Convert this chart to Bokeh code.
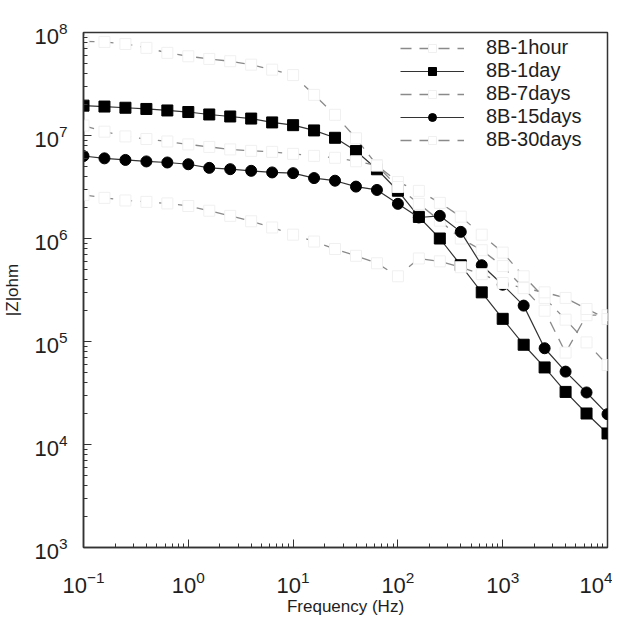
from bokeh.plotting import figure
from bokeh.models import Range1d
from bokeh.embed import file_html
from bokeh.resources import INLINE

freq = [0.1, 0.1585, 0.2512, 0.3981, 0.631, 1.0, 1.585, 2.512, 3.981, 6.31,
        10.0, 15.85, 25.12, 39.81, 63.1, 100.0, 158.5, 251.2, 398.1, 631.0,
        1000.0, 1585.0, 2512.0, 3981.0, 6310.0, 10000.0]

z_1hour = [8.2e7, 8.1e7, 7.74e7, 7.1e7, 6.35e7, 5.88e7, 5.54e7, 5.26e7, 4.87e7, 4.36e7,
           3.86e7, 2.48e7, 1.59e7, 9.4e6, 5.15e6, 3.53e6, 2.9e6, 2.22e6, 1.63e6, 1.09e6,
           7.3e5, 4.3e5, 2.65e5, 1.63e5, 9.8e4, 5.9e4]
z_1day = [1.95e7, 1.91e7, 1.86e7, 1.81e7, 1.75e7, 1.69e7, 1.6e7, 1.53e7, 1.46e7, 1.34e7,
          1.26e7, 1.12e7, 9.5e6, 7.06e6, 4.7e6, 2.91e6, 1.62e6, 1.0e6, 5.5e5, 3.0e5,
          1.66e5, 9.3e4, 5.6e4, 3.24e4, 2.0e4, 1.28e4]
z_7days = [1.25e7, 1.09e7, 9.8e6, 9.25e6, 8.75e6, 8.2e6, 7.75e6, 7.33e6, 7.1e6, 6.94e6,
           6.64e6, 6.35e6, 6.08e6, 5.62e6, 5.1e6, 3.16e6, 2.17e6, 1.49e6, 1.0e6, 7.7e5,
           5.4e5, 3.3e5, 1.99e5, 7.8e4, 1.8e5, 1.8e5]
z_15days = [6.32e6, 6.0e6, 5.79e6, 5.6e6, 5.47e6, 5.26e6, 4.85e6, 4.71e6, 4.54e6, 4.38e6,
            4.31e6, 3.86e6, 3.64e6, 3.19e6, 2.96e6, 2.17e6, 1.6e6, 1.66e6, 1.16e6, 5.5e5,
            3.56e5, 2.23e5, 8.6e4, 5.1e4, 3.2e4, 1.97e4]
z_30days = [2.65e6, 2.48e6, 2.34e6, 2.27e6, 2.19e6, 2.07e6, 1.86e6, 1.66e6, 1.47e6, 1.28e6,
            1.09e6, 9.35e5, 7.9e5, 6.8e5, 5.75e5, 4.3e5, 6.4e5, 6.0e5, 5.26e5, 4.5e5,
            3.7e5, 3.3e5, 3.0e5, 2.65e5, 2.07e5, 1.65e5]

FONT = "Liberation Sans"
GREY = "#8a8a8a"
INK = "#1e1e1e"

p = figure(width=612, height=618, x_axis_type="log", y_axis_type="log",
           x_range=Range1d(0.1, 1e4), y_range=Range1d(1e3, 1e8),
           output_backend="svg", toolbar_location=None,
           min_border_left=81, min_border_right=5, min_border_top=32, min_border_bottom=66)

p.xgrid.visible = False
p.ygrid.visible = False
p.outline_line_color = "#333333"
p.outline_line_width = 1.5

def dashed(z, label):
    p.line(freq, z, line_color=GREY, line_width=1.3, line_dash="11 8", legend_label=label)
    p.scatter(freq, z, marker="square", size=11, fill_color="white",
              line_color="#f0f0f0", line_width=1, legend_label=label)

dashed(z_1hour, "8B-1hour")
p.line(freq, z_1day, line_color="#333333", line_width=1.2, legend_label="8B-1day")
p.scatter(freq, z_1day, marker="square", size=11, fill_color="black",
          line_color="black", legend_label="8B-1day")
dashed(z_7days, "8B-7days")
p.line(freq, z_15days, line_color="#333333", line_width=1.2, legend_label="8B-15days")
p.scatter(freq, z_15days, marker="circle", size=11, fill_color="black",
          line_color="black", legend_label="8B-15days")
dashed(z_30days, "8B-30days")

for ax in (p.xaxis[0], p.yaxis[0]):
    ax.axis_line_color = "#333333"
    ax.axis_line_width = 1.5
    ax.major_tick_in = 8
    ax.major_tick_out = 0
    ax.minor_tick_in = 4
    ax.minor_tick_out = 0
    ax.major_tick_line_color = "#333333"
    ax.minor_tick_line_color = "#333333"
    ax.major_label_text_font = FONT
    ax.major_label_text_font_size = "22px"
    ax.major_label_text_color = INK
    ax.axis_label_text_font = FONT
    ax.axis_label_text_font_size = "17px"
    ax.axis_label_text_font_style = "normal"
    ax.axis_label_text_color = INK

p.xaxis.axis_label = "Frequency (Hz)"
p.yaxis.axis_label = "|Z|ohm"
p.xaxis.major_label_standoff = 23
p.yaxis.major_label_standoff = 16
p.xaxis.axis_label_standoff = 1
p.yaxis.axis_label_standoff = 9

p.legend.location = (317, 396)
p.legend.border_line_color = None
p.legend.background_fill_alpha = 0
p.legend.label_text_font = FONT
p.legend.label_text_font_size = "20px"
p.legend.label_text_color = INK
p.legend.label_text_line_height = 1.0
p.legend.glyph_width = 64
p.legend.glyph_height = 20
p.legend.label_height = 20
p.legend.spacing = -4
p.legend.padding = 2
p.legend.margin = 0
p.legend.label_standoff = 22

open("out.html", "w").write(file_html(p, INLINE))
